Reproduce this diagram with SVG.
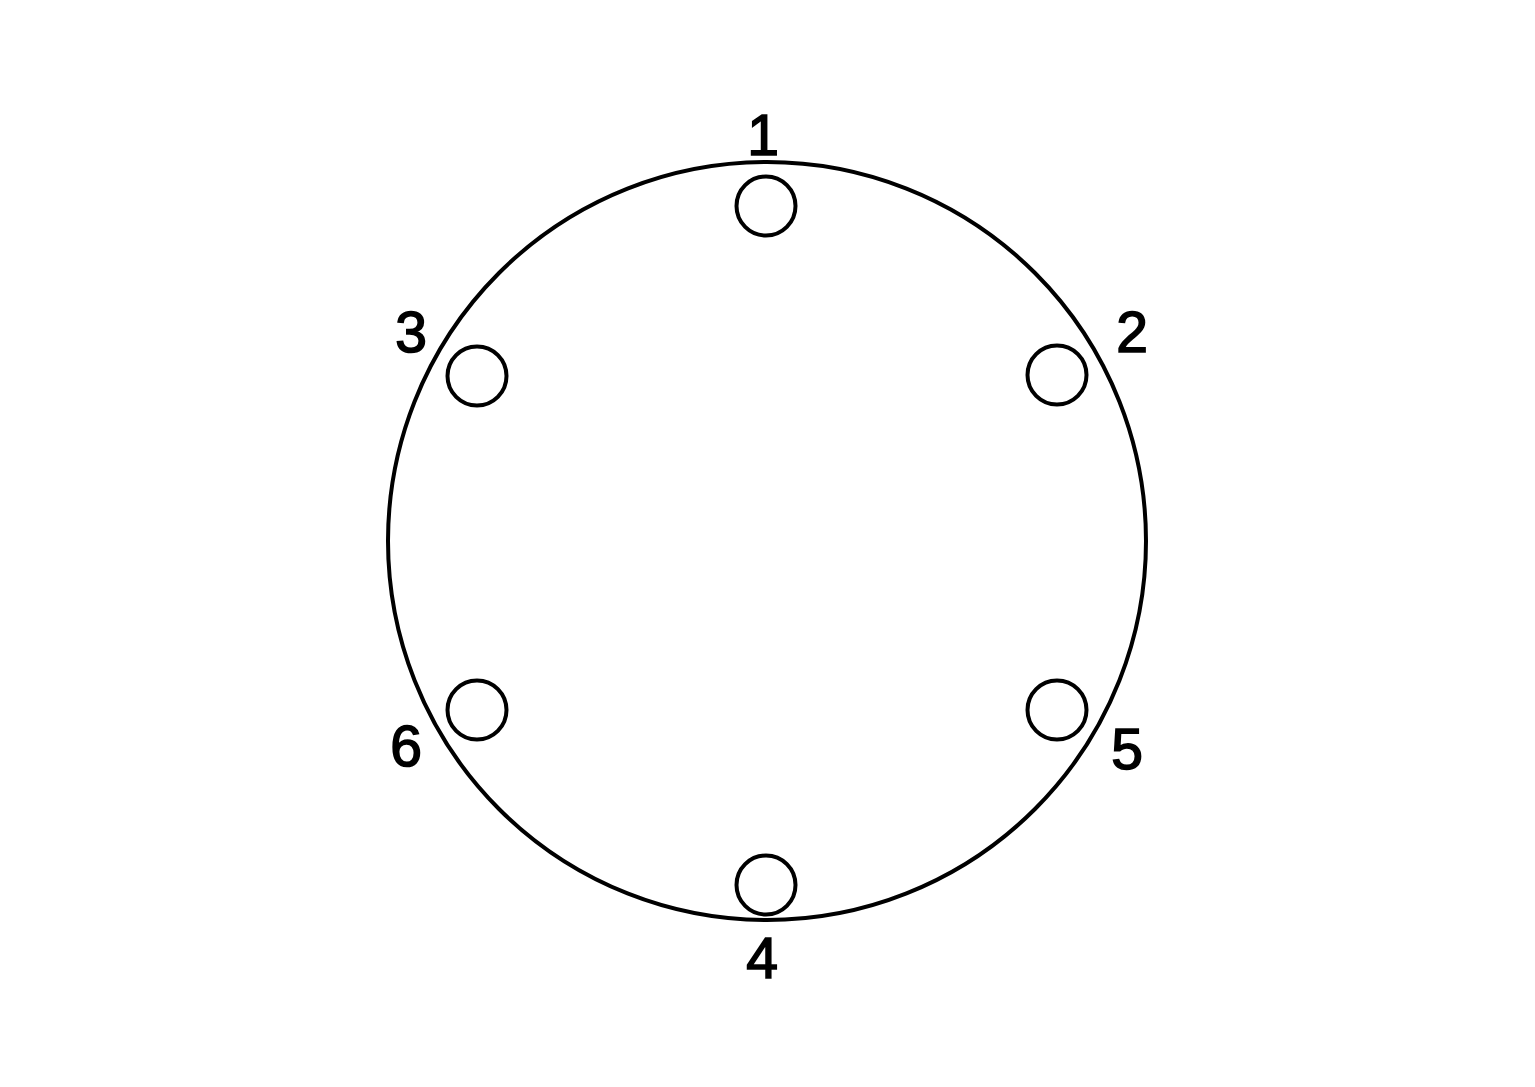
<svg xmlns="http://www.w3.org/2000/svg" width="1535" height="1087" viewBox="0 0 1535 1087">
<style>
.ring{fill:none;stroke:#000;stroke-width:4}
.hole{fill:none;stroke:#000;stroke-width:4}
.lbl{font-family:"Liberation Sans",Arial,sans-serif;font-size:57px;fill:#000;stroke:#000;stroke-width:1.6;text-anchor:middle}
</style>
<rect width="1535" height="1087" fill="#fff"/>
<g id="ring"><circle class="ring" cx="767" cy="541" r="379"/></g>
<g id="n1"><circle class="hole" cx="766" cy="206" r="29.5"/><text class="lbl" x="763" y="155">1</text></g>
<g id="n2"><circle class="hole" cx="1057" cy="375" r="29.5"/><text class="lbl" x="1132" y="352">2</text></g>
<g id="n3"><circle class="hole" cx="477" cy="376" r="29.5"/><text class="lbl" x="411" y="352">3</text></g>
<g id="n4"><circle class="hole" cx="766" cy="885" r="29.5"/><text class="lbl" x="762" y="978">4</text></g>
<g id="n5"><circle class="hole" cx="1057" cy="710" r="29.5"/><text class="lbl" x="1127" y="769">5</text></g>
<g id="n6"><circle class="hole" cx="477" cy="710" r="29.5"/><text class="lbl" x="406" y="766">6</text></g>
<g id="connectors"></g>
</svg>
